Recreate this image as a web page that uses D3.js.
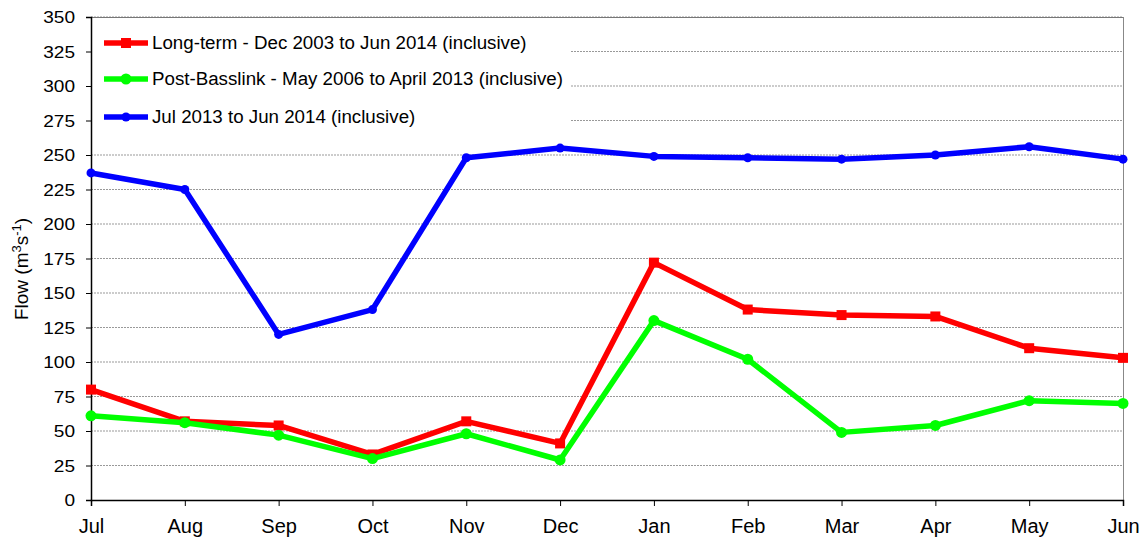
<!DOCTYPE html>
<html><head><meta charset="utf-8">
<script src="https://cdn.jsdelivr.net/npm/d3@7"></script>
<style>body{margin:0;background:#fff}svg{display:block}text{font-family:"Liberation Sans",Arial,sans-serif}</style>
</head><body><svg id="c" width="1141" height="539"></svg>
<script>
const months = ["Jul","Aug","Sep","Oct","Nov","Dec","Jan","Feb","Mar","Apr","May","Jun"];
const longTerm = [80,57,54,33,57,41,172,138,134,133,110,103];
const postBasslink = [61,56,47,30,48,29,130,102,49,54,72,70];
const recent = [237,225,120,138,248,255,249,248,247,250,256,247];
const yTicks = [0,25,50,75,100,125,150,175,200,225,250,275,300,325,350];
const seriesNames = ["Long-term - Dec 2003 to Jun 2014 (inclusive)","Post-Basslink - May 2006 to April 2013 (inclusive)","Jul 2013 to Jun 2014 (inclusive)"];

const svg = d3.select("#c");
const L=91, R=1123, T=17, B=500;
const x = d3.scalePoint().domain(months).range([L,R]);
const y = d3.scaleLinear().domain([0,350]).range([B,T]);

function stretch(sel, f){
  sel.each(function(){
    const w = this.getComputedTextLength();
    d3.select(this).attr("textLength", w*f).attr("lengthAdjust","spacingAndGlyphs");
  });
}

// gridlines
svg.append("g").selectAll("line").data(yTicks.filter(d=>d>0)).join("line")
  .attr("x1",L).attr("x2",R).attr("y1",d=>y(d)).attr("y2",d=>y(d))
  .attr("stroke","#999").attr("stroke-width",1).attr("stroke-dasharray","2,1");
// frame top/right
svg.append("line").attr("x1",L).attr("x2",R).attr("y1",T+0.5).attr("y2",T+0.5).attr("stroke","#777");
svg.append("line").attr("x1",R+0.5).attr("x2",R+0.5).attr("y1",T).attr("y2",B).attr("stroke","#888");

// legend box (white)
svg.append("rect").attr("x",L+1).attr("y",T+2).attr("width",478).attr("height",116).attr("fill","#fff");

// axes
const ya = svg.append("g").attr("transform",`translate(${L},0)`)
  .call(d3.axisLeft(y).tickValues(yTicks).tickSize(5).tickPadding(11));
const xa = svg.append("g").attr("transform",`translate(0,${B})`)
  .call(d3.axisBottom(x).tickSize(6).tickPadding(8));
[ya,xa].forEach(a=>{
  a.select(".domain").attr("stroke","#000").attr("stroke-width",1.5);
  a.selectAll(".tick line").attr("stroke","#000");
  a.selectAll("text").attr("fill","#000").attr("font-family","Liberation Sans, Arial, sans-serif");
});
ya.selectAll("text").attr("font-size",17).attr("dy","0.34em");
stretch(ya.selectAll("text"),1.12);
xa.selectAll("text").attr("font-size",20).attr("y",33).attr("dy",0);

// y label
svg.append("text").attr("transform","translate(28,269) rotate(-90)").attr("text-anchor","middle")
  .attr("font-size",19).html('Flow (m<tspan dy="-7" font-size="13">3</tspan><tspan dy="7">s</tspan><tspan dy="-7" font-size="13">-1</tspan><tspan dy="7">)</tspan>');

const series = [
  {vals:longTerm, color:"#ff0000", marker:"square"},
  {vals:postBasslink, color:"#00ff00", marker:"circle", r:5.5},
  {vals:recent, color:"#0000ff", marker:"circle", r:4.5}
];
const line = d3.line().x((d,i)=>x(months[i])).y(d=>y(d));
series.forEach(s=>{
  const g = svg.append("g");
  g.append("path").datum(s.vals).attr("d",line).attr("fill","none")
    .attr("stroke",s.color).attr("stroke-width",5.5).attr("stroke-linejoin","round");
  if(s.marker==="square"){
    g.selectAll("rect").data(s.vals).join("rect")
      .attr("x",(d,i)=>x(months[i])-5).attr("y",d=>y(d)-5).attr("width",10).attr("height",10).attr("fill",s.color);
  } else {
    g.selectAll("circle").data(s.vals).join("circle")
      .attr("cx",(d,i)=>x(months[i])).attr("cy",d=>y(d)).attr("r",s.r).attr("fill",s.color);
  }
});

// legend
const legY = [43,79,117];
series.forEach((s,i)=>{
  const g = svg.append("g");
  g.append("line").attr("x1",104).attr("x2",148).attr("y1",legY[i]).attr("y2",legY[i])
    .attr("stroke",s.color).attr("stroke-width",5.5);
  if(s.marker==="square") g.append("rect").attr("x",121).attr("y",legY[i]-5).attr("width",10).attr("height",10).attr("fill",s.color);
  else g.append("circle").attr("cx",126).attr("cy",legY[i]).attr("r",s.r).attr("fill",s.color);
  const t = g.append("text").attr("x",152).attr("y",legY[i]).attr("dy","0.36em").attr("font-size",18).text(seriesNames[i]);
  stretch(t,1.04);
});
</script></body></html>
